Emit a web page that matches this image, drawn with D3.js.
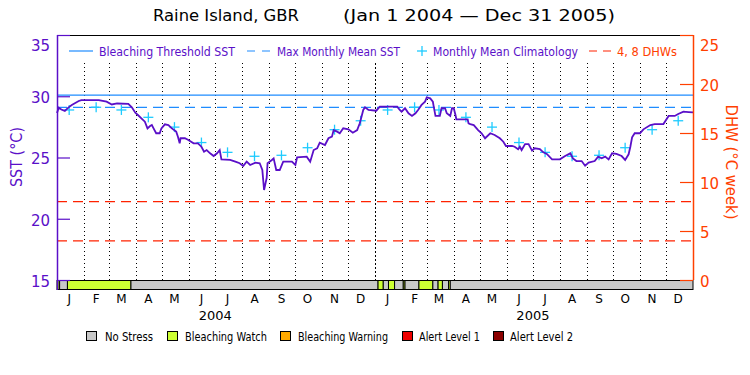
<!DOCTYPE html>
<html>
<head>
<meta charset="utf-8">
<script src="https://cdn.jsdelivr.net/npm/d3@7"></script>
<style>
  html, body { margin: 0; padding: 0; background: #fff; }
  svg { display: block; font-family: "DejaVu Sans", sans-serif; }
</style>
</head>
<body>
<svg id="chart" width="750" height="375"></svg>
<script>
// ---------------- DATA ----------------
const titleLeft = "Raine Island, GBR";
const titleRight = "(Jan 1 2004 \u2014 Dec 31 2005)";

// daily SST trace (day offset from Jan 1 2004, SST °C)
const sstDay = [0,2,5,9,13,17,21,25,28,48,57,63,69,82,86,90,93,97,101,104,107,109,111,114,118,120,124,128,132,137,139,141,142,147,151,157,162,166,169,172,176,180,184,187,189,199,205,210,214,218,222,228,233,236,238,241,242,247,249,252,256,260,270,274,276,287,291,295,299,302,308,312,316,318,322,325,329,335,340,345,348,350,352,354,358,367,371,391,394,396,400,404,408,412,415,419,423,425,429,432,433,435,440,442,446,448,452,454,456,458,459,472,473,475,479,484,488,492,498,503,509,513,516,523,526,530,532,534,538,542,546,549,555,559,563,569,578,584,590,593,597,603,607,611,618,622,626,630,634,638,643,649,653,657,659,661,664,670,674,682,687,697,703,710,714,720,726,731];
const sstVal = [28.63,29.07,28.92,28.80,29.07,29.29,29.45,29.61,29.69,29.69,29.56,29.33,29.41,29.37,29.10,28.66,28.47,28.20,27.92,27.38,27.57,27.65,27.38,26.98,26.98,27.38,27.71,27.65,27.38,27.11,26.70,26.16,26.57,26.57,26.43,26.16,26.16,25.88,25.47,25.61,25.34,25.12,25.34,25.61,24.85,24.80,24.66,24.53,24.31,24.66,24.39,24.58,24.53,23.98,22.35,23.33,24.53,24.80,24.93,23.98,23.98,24.66,24.66,24.39,25.02,25.07,24.66,25.61,25.75,26.21,26.02,26.57,26.70,27.24,27.11,26.98,27.38,27.30,27.02,27.24,27.79,28.33,28.88,29.10,28.88,28.82,29.15,29.15,28.88,28.74,29.02,28.61,28.39,28.61,28.88,29.29,29.56,29.91,29.83,29.56,29.15,28.39,28.39,29.02,29.02,28.61,28.39,29.02,29.02,28.47,28.12,28.12,27.79,27.73,27.65,27.24,26.98,26.57,26.98,26.84,26.57,26.29,25.94,25.94,25.88,25.67,25.88,25.61,26.10,26.10,25.56,25.75,25.69,25.42,25.29,24.85,24.85,25.12,25.34,24.93,24.71,24.71,24.33,24.58,24.71,25.07,24.93,25.07,24.85,25.34,25.29,25.12,24.80,25.26,25.88,26.65,26.98,26.98,27.30,27.65,27.73,27.73,28.39,28.39,28.55,28.74,28.71,28.69];

// monthly mean climatology (Jan..Dec), repeated for each year
const climVal = [28.88,29.10,28.88,28.28,27.48,26.22,25.42,25.10,25.18,25.80,27.27,28.00];
const years = [2004, 2005];
const monthInitials = ["J","F","M","A","M","J","J","A","S","O","N","D"];

const mmm = 29.1;          // max monthly mean SST
const threshold = 30.1;    // bleaching threshold SST
const dhwLines = [4, 8];

const sstTicks = [15, 20, 25, 30, 35];
const dhwTicks = [0, 5, 10, 15, 20, 25];

// stress level runs (day offsets, level: 0 no stress, 1 watch)
const stressStart = [0,1,3,12,85,369,375,381,388,398,400,416,432,438,443,450,452];
const stressEnd   = [1,3,12,85,369,375,381,388,398,400,416,432,438,443,450,452,731];
const stressLevel = [0,1,0,1,0,1,0,1,0,1,0,1,0,1,0,1,0];

const legendNames = ["No Stress","Bleaching Watch","Bleaching Warning","Alert Level 1","Alert Level 2"];
const legendColors = ["#c8c8c8","#ccff33","#ffaa00","#ee0000","#8b0000"];

// ---------------- DRAW ----------------
const svg = d3.select("#chart");
const purple = "#5a0fc8", orange = "#ff4000", blue = "#1e8cff", cyan = "#1ecbff", red = "#ff2200";
const L = 57, R = 693, T = 35, B = 280, barB = 290;
const t0 = new Date(2004, 0, 1), t1 = new Date(2006, 0, 1);
const dayDate = d => d3.timeDay.offset(t0, d);

const x = d3.scaleTime().domain([t0, t1]).range([L, R]);
const yS = d3.scaleLinear().domain([15, 35]).range([B, T]);
const yD = d3.scaleLinear().domain([0, 25]).range([B, T]);

// title
svg.append("text").attr("x", 153).attr("y", 21).attr("font-size", 16).attr("fill", "#000")
  .attr("textLength", 146).attr("lengthAdjust", "spacingAndGlyphs").text(titleLeft);
svg.append("text").attr("x", 343).attr("y", 21).attr("font-size", 16).attr("fill", "#000")
  .attr("textLength", 272).attr("lengthAdjust", "spacingAndGlyphs").text(titleRight);

// month grid (dotted)
const monthStarts = d3.timeMonth.range(d3.timeMonth.offset(t0, 1), t1);
svg.append("g").selectAll("line").data(monthStarts).join("line")
  .attr("x1", d => Math.round(x(d)) + 0.5).attr("x2", d => Math.round(x(d)) + 0.5)
  .attr("y1", 63).attr("y2", B)
  .attr("stroke", "#000").attr("stroke-width", 1)
  .attr("stroke-dasharray", d => d.getMonth() === 0 ? "2,2" : "1,3");

// threshold & MMM
svg.append("line").attr("x1", L).attr("x2", R).attr("y1", yS(threshold)).attr("y2", yS(threshold))
  .attr("stroke", blue).attr("stroke-width", 1.2);
svg.append("line").attr("x1", L).attr("x2", R).attr("y1", yS(mmm)).attr("y2", yS(mmm))
  .attr("stroke", blue).attr("stroke-width", 1.2).attr("stroke-dasharray", "10,6");

// DHW lines
svg.append("g").selectAll("line").data(dhwLines).join("line")
  .attr("x1", L).attr("x2", R).attr("y1", d => yD(d)).attr("y2", d => yD(d))
  .attr("stroke", red).attr("stroke-width", 1.2).attr("stroke-dasharray", "10,6");

// climatology markers
const clim = [];
years.forEach(yr => climVal.forEach((v, m) => clim.push({ date: new Date(yr, m, 15), v })));
const plus = svg.append("g").attr("stroke", cyan).attr("stroke-width", 1.3);
clim.forEach(c => {
  const cx = x(c.date), cy = yS(c.v);
  plus.append("line").attr("x1", cx - 5).attr("x2", cx + 5).attr("y1", cy).attr("y2", cy);
  plus.append("line").attr("x1", cx).attr("x2", cx).attr("y1", cy - 5).attr("y2", cy + 5);
});

// SST line
const sst = sstDay.map((d, i) => ({ date: dayDate(d), v: sstVal[i] }));
svg.append("path").datum(sst)
  .attr("d", d3.line().x(d => x(d.date)).y(d => yS(d.v)).curve(d3.curveLinear))
  .attr("fill", "none").attr("stroke", purple).attr("stroke-width", 1.8).attr("stroke-linejoin", "miter");

// top border
svg.append("line").attr("x1", L).attr("x2", R).attr("y1", T + 0.5).attr("y2", T + 0.5)
  .attr("stroke", "#000").attr("stroke-width", 1);

// stress bar
const runs = stressStart.map((s, i) => ({ s, e: stressEnd[i], lvl: stressLevel[i] }));
svg.append("g").selectAll("rect").data(runs).join("rect")
  .attr("x", d => x(dayDate(d.s))).attr("width", d => x(dayDate(d.e)) - x(dayDate(d.s)))
  .attr("y", B + 0.5).attr("height", barB - B - 1)
  .attr("fill", d => legendColors[d.lvl]).attr("stroke", "#000").attr("stroke-width", 1);

// left axis
const gL = svg.append("g").attr("transform", `translate(${L},0)`).attr("color", purple);
gL.call(d3.axisLeft(yS).tickValues(d3.range(15, 36)).tickSize(-6).tickFormat(""));
gL.call(d3.axisLeft(yS).tickValues(sstTicks).tickSize(-13).tickPadding(7).tickFormat(d3.format("d")));
gL.selectAll(".domain").remove();
gL.selectAll("text").attr("font-size", 15).attr("font-family", "DejaVu Sans").attr("fill", purple)
  .attr("dy", d => d === 35 ? "1.05em" : "0.42em");
gL.selectAll("line").attr("stroke-width", 1.2);
svg.append("line").attr("x1", L + 0.5).attr("x2", L + 0.5).attr("y1", T).attr("y2", barB)
  .attr("stroke", purple).attr("stroke-width", 1.5);

// right axis
const gR = svg.append("g").attr("transform", `translate(${R},0)`).attr("color", orange);
gR.call(d3.axisRight(yD).tickValues(d3.range(0, 26)).tickSize(-6).tickFormat(""));
gR.call(d3.axisRight(yD).tickValues(dhwTicks).tickSize(-13).tickPadding(7).tickFormat(d3.format("d")));
gR.selectAll(".domain").remove();
gR.selectAll("text").attr("font-size", 15).attr("font-family", "DejaVu Sans").attr("fill", orange)
  .attr("dy", d => d === 25 ? "1.05em" : "0.42em");
gR.selectAll("line").attr("stroke-width", 1.2);
svg.append("line").attr("x1", R + 0.5).attr("x2", R + 0.5).attr("y1", T).attr("y2", B)
  .attr("stroke", orange).attr("stroke-width", 1.5);

// axis titles
svg.append("text").attr("transform", "translate(22,157) rotate(-90)").attr("text-anchor", "middle")
  .attr("font-size", 15).attr("fill", purple).attr("textLength", 60).attr("lengthAdjust", "spacingAndGlyphs")
  .text("SST (\u00B0C)");
svg.append("text").attr("transform", "translate(726,162) rotate(90)").attr("text-anchor", "middle")
  .attr("font-size", 15).attr("fill", orange).attr("textLength", 115).attr("lengthAdjust", "spacingAndGlyphs")
  .text("DHW (\u00B0C week)");

// month labels
const mids = [];
years.forEach(yr => monthInitials.forEach((m, i) => mids.push({ date: new Date(yr, i, 15), m })));
svg.append("g").selectAll("text").data(mids).join("text")
  .attr("x", d => x(d.date)).attr("y", 303).attr("text-anchor", "middle")
  .attr("font-size", 12).attr("fill", "#000").text(d => d.m);
svg.append("g").selectAll("text").data(years).join("text")
  .attr("x", d => x(new Date(d, 6, 1)) ).attr("y", 320).attr("text-anchor", "middle")
  .attr("font-size", 13).attr("fill", "#000").text(d => d);

// top legend
const ly = 51, lty = 55.5;
svg.append("line").attr("x1", 69).attr("x2", 93).attr("y1", ly).attr("y2", ly).attr("stroke", blue).attr("stroke-width", 1.2);
svg.append("text").attr("x", 99).attr("y", lty).attr("font-size", 13).attr("fill", purple)
  .attr("textLength", 136).attr("lengthAdjust", "spacingAndGlyphs").text("Bleaching Threshold SST");
svg.append("line").attr("x1", 247).attr("x2", 271).attr("y1", ly).attr("y2", ly).attr("stroke", blue)
  .attr("stroke-width", 1.2).attr("stroke-dasharray", "8,7");
svg.append("text").attr("x", 277).attr("y", lty).attr("font-size", 13).attr("fill", purple)
  .attr("textLength", 123).attr("lengthAdjust", "spacingAndGlyphs").text("Max Monthly Mean SST");
svg.append("line").attr("x1", 417).attr("x2", 427).attr("y1", ly).attr("y2", ly).attr("stroke", cyan).attr("stroke-width", 1.3);
svg.append("line").attr("x1", 422).attr("x2", 422).attr("y1", ly - 5).attr("y2", ly + 5).attr("stroke", cyan).attr("stroke-width", 1.3);
svg.append("text").attr("x", 433).attr("y", lty).attr("font-size", 13).attr("fill", purple)
  .attr("textLength", 145).attr("lengthAdjust", "spacingAndGlyphs").text("Monthly Mean Climatology");
svg.append("line").attr("x1", 589).attr("x2", 611).attr("y1", ly).attr("y2", ly).attr("stroke", red)
  .attr("stroke-width", 1.2).attr("stroke-dasharray", "8,6");
svg.append("text").attr("x", 617).attr("y", lty).attr("font-size", 13).attr("fill", orange)
  .attr("textLength", 60).attr("lengthAdjust", "spacingAndGlyphs").text("4, 8 DHWs");

// bottom legend
const boxX = [86, 167, 280, 402, 493];
const textX = [105, 185, 298, 419, 510];
const textW = [48, 82, 90, 61, 63];
const gLeg = svg.append("g");
legendNames.forEach((n, i) => {
  gLeg.append("rect").attr("x", boxX[i] + 0.5).attr("y", 331.5).attr("width", 10).attr("height", 9)
    .attr("fill", legendColors[i]).attr("stroke", "#000").attr("stroke-width", 1);
  gLeg.append("text").attr("x", textX[i]).attr("y", 340.5).attr("font-size", 12.5).attr("fill", "#000")
    .attr("textLength", textW[i]).attr("lengthAdjust", "spacingAndGlyphs").text(n);
});
</script>
</body>
</html>
